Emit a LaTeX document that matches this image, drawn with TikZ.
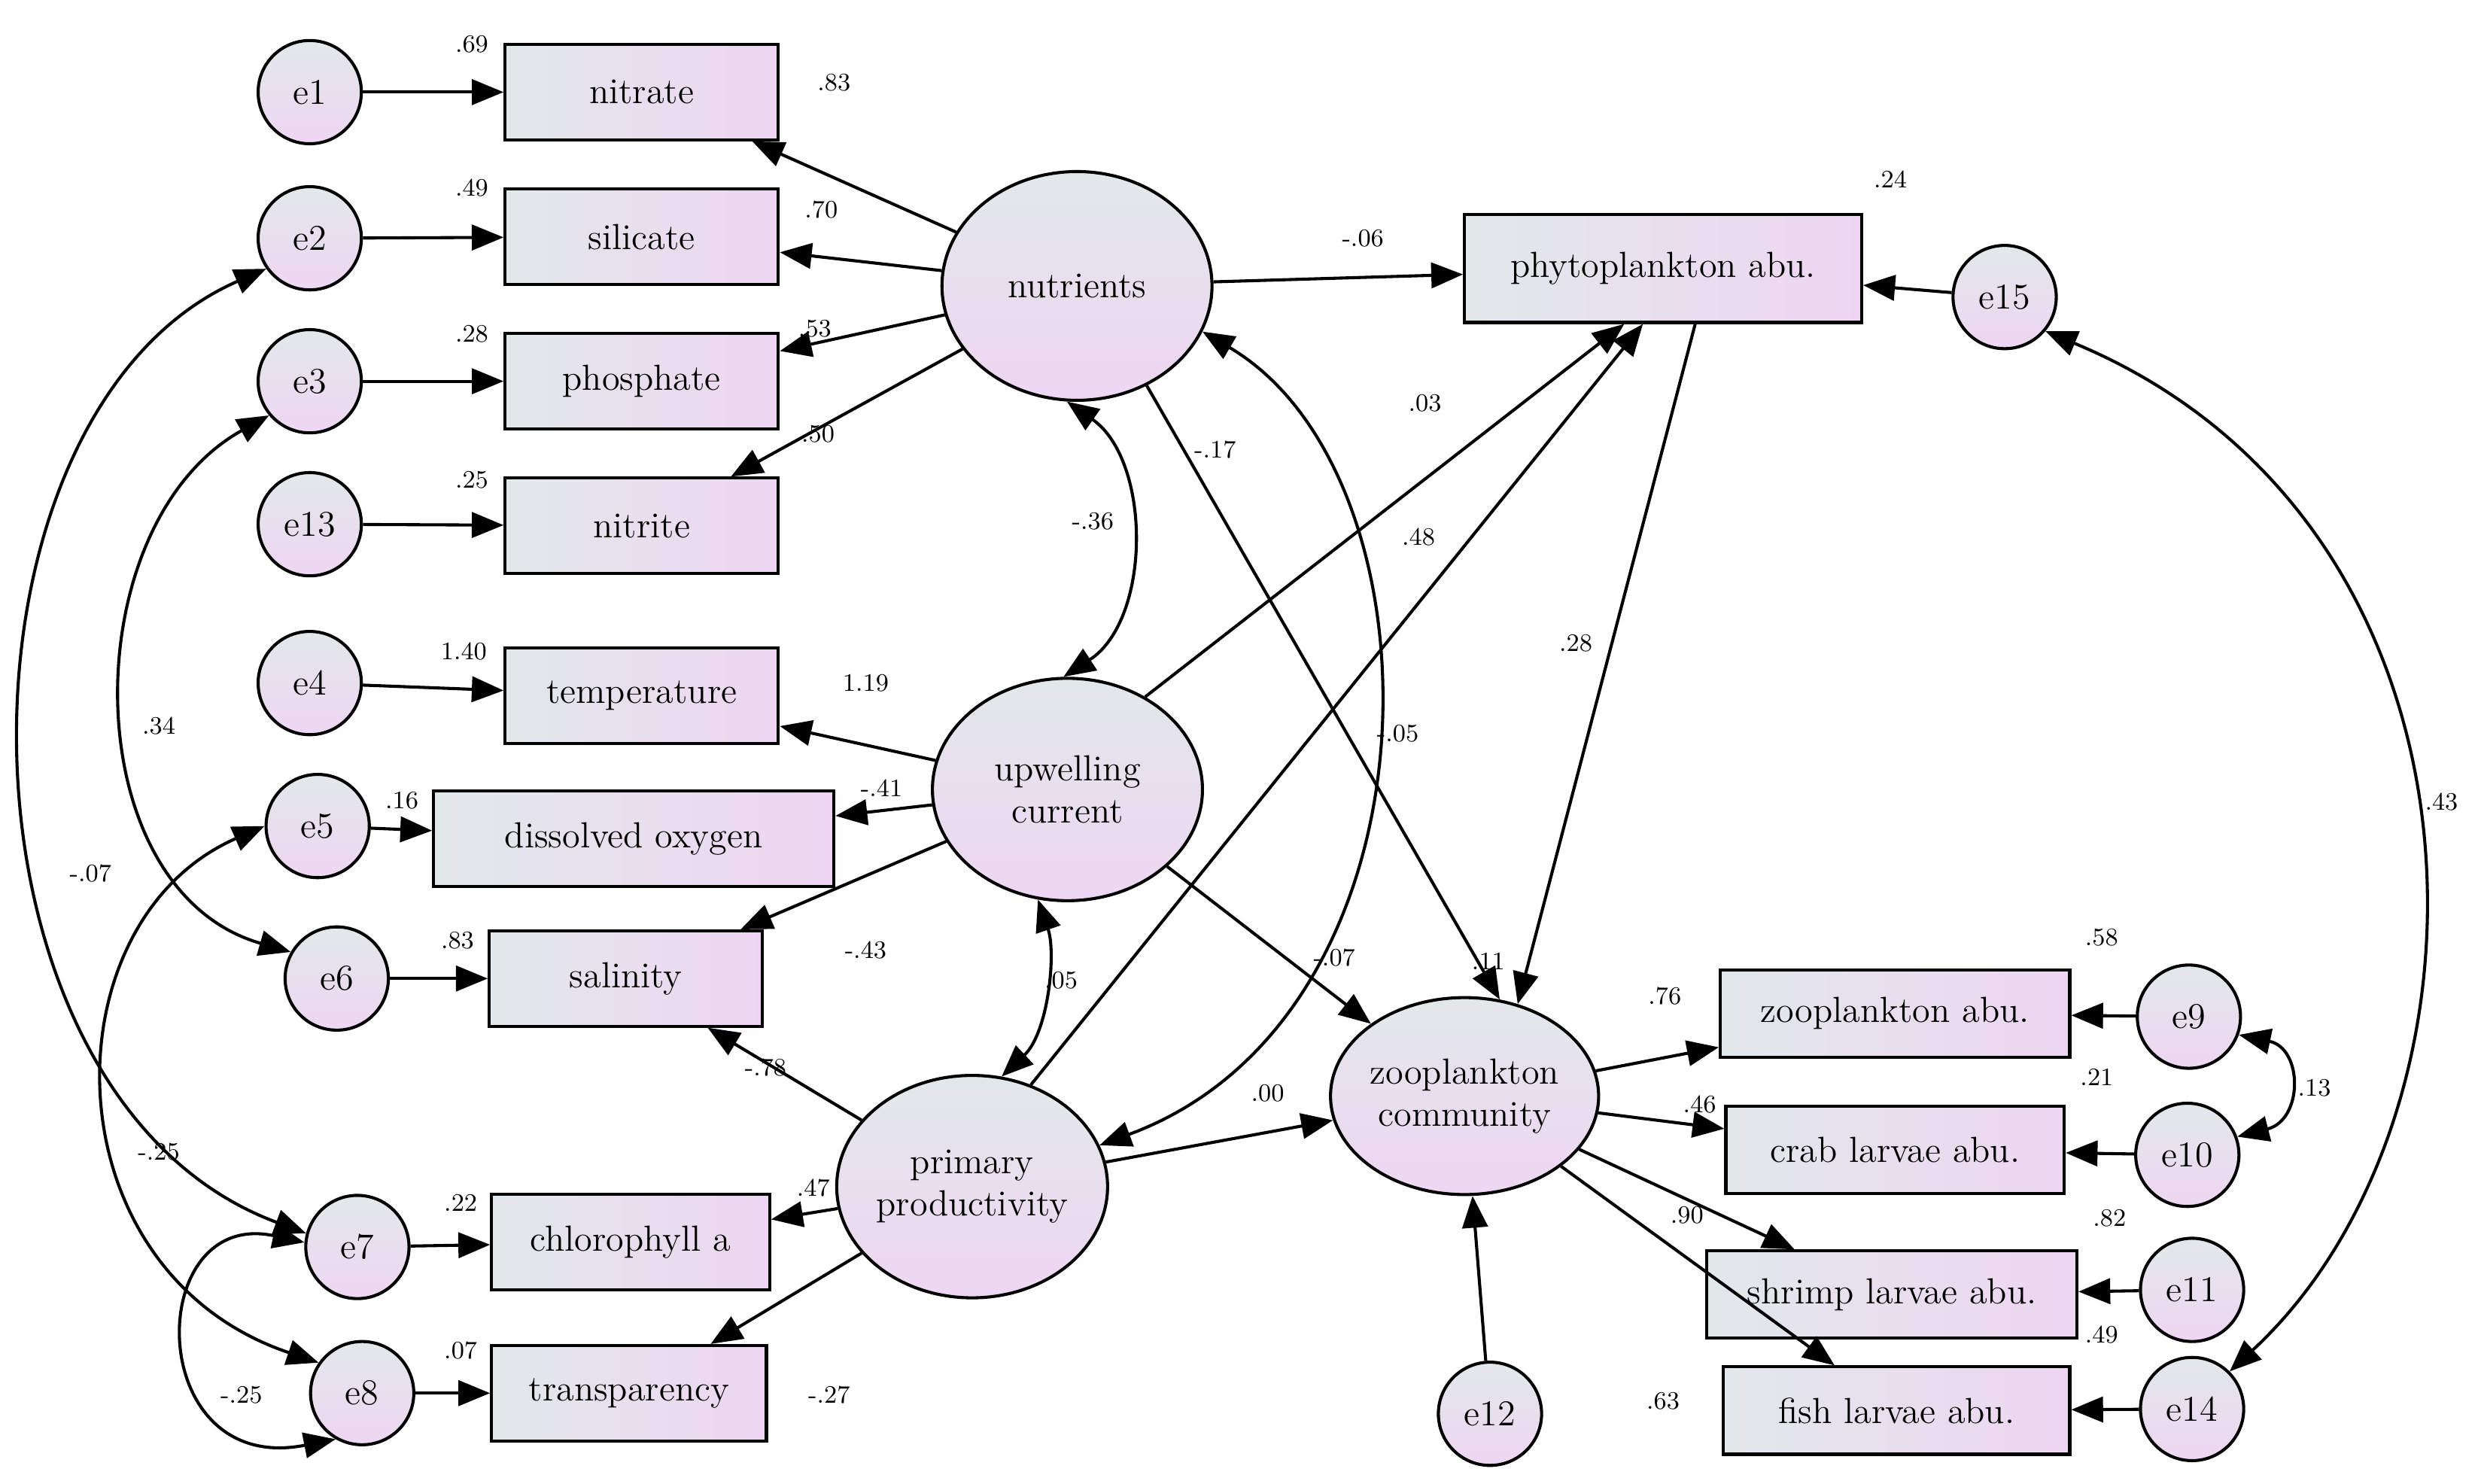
\documentclass[tikz,border=0pt]{standalone}
\usetikzlibrary{arrows.meta,shapes.geometric}
\definecolor{boxl}{HTML}{E2E8EA}
\definecolor{boxr}{HTML}{EED6F2}
\tikzset{
  var/.style={draw,line width=1.1pt,left color=boxl,right color=boxr,minimum height=12mm,inner sep=0pt,font=\fontsize{13}{15}\selectfont},
  lat/.style={draw,ellipse,line width=1.1pt,top color=boxl,bottom color=boxr,align=center,inner sep=0pt,font=\fontsize{13}{15}\selectfont},
  err/.style={draw,circle,line width=1.1pt,top color=boxl,bottom color=boxr,minimum size=13mm,inner sep=0pt,font=\fontsize{13}{15}\selectfont},
  path/.style={line width=1.1pt,-{Triangle[length=4mm,width=3.2mm]}},
  cov/.style={line width=1.1pt,{Triangle[length=4mm,width=3.2mm]}-{Triangle[length=4mm,width=3.2mm]}},
  lab/.style={font=\fontsize{9}{10}\selectfont,inner sep=1pt}
}
\begin{document}
\begin{tikzpicture}[x=0.2mm,y=-0.2mm]
\useasboundingbox (0,0) rectangle (1560,934);
% observed variables
\node[var,minimum width=34.4mm] (nitrate) at (404,58) {nitrate};
\node[var,minimum width=34.4mm] (silicate) at (404,149) {silicate};
\node[var,minimum width=34.4mm] (phosphate) at (404,240) {phosphate};
\node[var,minimum width=34.4mm] (nitrite) at (404,331) {nitrite};
\node[var,minimum width=34.4mm] (temp) at (404,438) {temperature};
\node[var,minimum width=50.4mm] (oxygen) at (399,528) {dissolved oxygen};
\node[var,minimum width=34.4mm] (salinity) at (394,616) {salinity};
\node[var,minimum width=35mm] (chloro) at (397,782) {chlorophyll a};
\node[var,minimum width=34.6mm] (transp) at (396,877) {transparency};
\node[var,minimum width=50mm,minimum height=13.6mm] (phyto) at (1047,169) {phytoplankton abu.};
\node[var,minimum width=44mm,minimum height=11mm] (zooabu) at (1193,638) {zooplankton abu.};
\node[var,minimum width=42.6mm,minimum height=11mm] (crab) at (1193,724) {crab larvae abu.};
\node[var,minimum width=46.6mm,minimum height=11mm] (shrimp) at (1191,815) {shrimp larvae abu.};
\node[var,minimum width=43.6mm,minimum height=11mm] (fish) at (1194,888) {fish larvae abu.};
% latent variables
\node[lat,minimum width=34mm,minimum height=28.8mm] (nutr) at (678,180) {nutrients};
\node[lat,minimum width=34mm,minimum height=28mm] (upw) at (672,497) {upwelling\\current};
\node[lat,minimum width=34mm,minimum height=28mm] (prim) at (612,747) {primary\\productivity};
\node[lat,minimum width=32.8mm,minimum height=24.8mm] (zooc) at (922,690) {zooplankton\\community};
% errors
\node[err] (e1) at (195,58) {e1};
\node[err] (e2) at (195,150) {e2};
\node[err] (e3) at (195,240) {e3};
\node[err] (e13) at (195,330) {e13};
\node[err] (e4) at (195,430) {e4};
\node[err] (e5) at (200,520) {e5};
\node[err] (e6) at (212,616) {e6};
\node[err] (e7) at (225,785) {e7};
\node[err] (e8) at (228,877) {e8};
\node[err] (e15) at (1262,187) {e15};
\node[err] (e9) at (1378,640) {e9};
\node[err] (e10) at (1377,727) {e10};
\node[err] (e11) at (1380,812) {e11};
\node[err] (e14) at (1380,887) {e14};
\node[err] (e12) at (938,890) {e12};
% error paths
\foreach \a/\b in {e1/nitrate,e2/silicate,e3/phosphate,e13/nitrite,e4/temp,e5/oxygen,e6/salinity,e7/chloro,e8/transp,e15/phyto,e9/zooabu,e10/crab,e11/shrimp,e14/fish,e12/zooc}
  \draw[path] (\a) -- (\b);
% structural paths
\foreach \a/\b in {nutr/nitrate,nutr/silicate,nutr/phosphate,nutr/nitrite,upw/temp,upw/oxygen,upw/salinity,prim/salinity,prim/chloro,prim/transp,nutr/phyto,upw/zooc,prim/zooc,zooc/zooabu,zooc/crab,zooc/shrimp,zooc/fish}
  \draw[path] (\a) -- (\b);
\draw[path] (upw.50) -- (phyto.235);
\draw[path] (prim.60) -- (phyto.250);
\draw[path] (nutr.-55) -- (zooc.70);
\draw[path] (phyto.-60) -- (zooc.60);
% covariances
\draw[cov] (e2.215) .. controls (-40,260) and (-40,690) .. (e7.165);
\draw[cov] (e3.220) .. controls (46,330) and (46,560) .. (e6.150);
\draw[cov] (e5.180) .. controls (29,580) and (29,800) .. (e8.145);
\draw[cov] (e7.175) .. controls (90,760) and (90,930) .. (e8.240);
\draw[cov] (nutr.265) .. controls (725,290) and (725,390) .. (upw.92);
\draw[cov] (upw.255) .. controls (665,600) and (660,650) .. (prim.75);
\draw[cov] (nutr.-20) .. controls (912,300) and (912,640) .. (prim.18);
\draw[cov] (e9.-20) .. controls (1450,660) and (1450,705) .. (e10.20);
\draw[cov] (e15.-40) .. controls (1580,330) and (1580,700) .. (e14.45);
% labels
\foreach \n/\x/\y/\t in {l1/297/28/.69,l2/297/118/.49,l3/297/210/.28,l4/297/302/.25,l5/292/410/1.40,l6/253/504/.16,l7/288/592/.83,l8/290/757/.22,l9/290/850/.07,
  l10/525/52/.83,l11/517/132/.70,l12/513/207/.53,l13/515/273/.50,l14/545/430/1.19,l15/555/496/-.41,l16/545/598/-.43,l17/482/672/-.78,l18/512/748/.47,l19/522/878/-.27,
  l20/858/150/-.06,l21/897/254/.03,l22/893/338/.48,l23/765/283/-.17,l24/840/603/-.07,l25/880/462/-.05,l26/798/688/.00,l27/992/405/.28,l28/937/605/.11,l29/1190/113/.24,
  l30/1048/627/.76,l31/1070/695/.46,l32/1062/765/.90,l33/1047/882/.63,l34/1323/590/.58,l35/1320/678/.21,l36/1328/767/.82,l37/1323/840/.49,
  l38/688/328/-.36,l39/668/617/.05,l40/57/550/-.07,l41/100/457/.34,l42/100/725/-.25,l43/152/878/-.25,l44/1457/685/.13,l45/1537/505/.43}
  \node[lab] (\n) at (\x,\y) {\t};
\end{tikzpicture}
\end{document}
